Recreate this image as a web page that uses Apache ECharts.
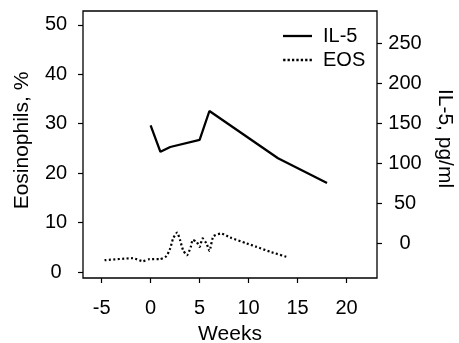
<!DOCTYPE html>
<html>
<head>
<meta charset="utf-8">
<script src="https://cdn.jsdelivr.net/npm/echarts@6/dist/echarts.min.js"></script>
<style>
  html, body {margin: 0; padding: 0; background: #fff;}
  #chart {width: 459px; height: 343px;}
</style>
</head>
<body>
<div id="chart"></div>
<script>
// IL-5 (pg/ml, right axis), solid line
const il5Weeks = [0, 1, 2, 5, 6, 13, 18];
const il5Values = [147, 114, 120, 129, 165, 106, 75];

// Eosinophils (%, left axis), dotted line
const eosWeeks = [-4.7, -1.8, -0.8, -0.1, 0.9, 1.6, 2.0, 2.3, 2.7, 3.0, 3.3, 3.7, 4.1, 4.3, 4.7, 5.0, 5.3, 5.7, 6.0, 6.4, 7.2, 8.1, 9.8, 10.8, 12.2, 14.0];
const eosValues = [2.4, 2.8, 2.2, 2.6, 2.6, 3.2, 4.8, 6.8, 8.0, 6.5, 4.5, 3.4, 5.1, 6.5, 6.1, 5.1, 6.8, 5.8, 4.3, 7.2, 7.8, 7.0, 5.8, 5.1, 4.1, 3.0];

const weekTicks = [-5, 0, 5, 10, 15, 20];
const eosTicks = [0, 10, 20, 30, 40, 50];
const il5Ticks = [0, 50, 100, 150, 200, 250];

const FONT = 'Liberation Sans';
const TICK_SIZE = 20;
const TITLE_SIZE = 21;
const chart = echarts.init(document.getElementById('chart'), null, {renderer: 'canvas'});

const tickStyle = {show: true, inside: false, length: 5, lineStyle: {color: '#000', width: 1.2}};
const noLine = {show: false, onZero: false};

// legend samples: a solid bar and a row of dots
const solidIcon = 'path://M0,0h29v2.3h-29z';
const dotIcon = 'path://M0,0h2.3v2.3h-2.3z M4.4,0h2.3v2.3h-2.3z M8.8,0h2.3v2.3h-2.3z M13.2,0h2.3v2.3h-2.3z M17.6,0h2.3v2.3h-2.3z M22,0h2.3v2.3h-2.3z M26.4,0h2.3v2.3h-2.3z';

chart.setOption({
  animation: false,
  textStyle: {fontFamily: FONT, color: '#000'},
  grid: {
    left: 83, right: 82, top: 11, bottom: 65,
    outerBoundsMode: 'none',
    show: true, borderColor: '#000', borderWidth: 1.3, backgroundColor: 'transparent',
  },
  legend: {
    orient: 'vertical',
    left: 283,
    top: 26,
    padding: 0,
    itemWidth: 29,
    itemHeight: 2.3,
    itemGap: 4,
    textStyle: {fontFamily: FONT, fontSize: TICK_SIZE, color: '#000', padding: [0, 0, 0, 6]},
    data: [
      {name: 'IL-5', icon: solidIcon},
      {name: 'EOS', icon: dotIcon},
    ],
  },
  xAxis: {
    type: 'value',
    min: -6.9,
    max: 23.1,
    name: 'Weeks',
    nameLocation: 'middle',
    nameGap: 46,
    nameTextStyle: {fontFamily: FONT, fontSize: TITLE_SIZE, color: '#000'},
    axisLine: noLine,
    axisTick: Object.assign({customValues: weekTicks}, tickStyle),
    axisLabel: {customValues: weekTicks, fontFamily: FONT, fontSize: TICK_SIZE, color: '#000', margin: 20},
    splitLine: {show: false},
  },
  yAxis: [
    {
      type: 'value',
      position: 'left',
      min: -1.2,
      max: 52.8,
      name: 'Eosinophils, %',
      nameLocation: 'middle',
      nameGap: 50,
      nameTextStyle: {fontFamily: FONT, fontSize: TITLE_SIZE, color: '#000', padding: [0, 0, 0, 8]},
      axisLine: noLine,
      axisTick: Object.assign({customValues: eosTicks}, tickStyle),
      axisLabel: {customValues: eosTicks, fontFamily: FONT, fontSize: TICK_SIZE, color: '#000', align: 'center', margin: 27},
      splitLine: {show: false},
    },
    {
      type: 'value',
      position: 'right',
      min: -43.75,
      max: 290,
      name: 'IL-5, pg/ml',
      nameLocation: 'middle',
      nameRotate: -90,
      nameGap: 57,
      nameTextStyle: {fontFamily: FONT, fontSize: TITLE_SIZE, color: '#000', padding: [0, 12, 0, 0]},
      axisLine: noLine,
      axisTick: Object.assign({customValues: il5Ticks}, tickStyle),
      axisLabel: {customValues: il5Ticks, fontFamily: FONT, fontSize: TICK_SIZE, color: '#000', align: 'center', margin: 28},
      splitLine: {show: false},
    },
  ],
  series: [
    {
      name: 'IL-5',
      type: 'line',
      yAxisIndex: 1,
      symbol: 'none',
      data: il5Weeks.map((w, i) => [w, il5Values[i]]),
      lineStyle: {color: '#000', width: 2.3},
      itemStyle: {color: '#000'},
    },
    {
      name: 'EOS',
      type: 'line',
      yAxisIndex: 0,
      symbol: 'none',
      smooth: 0.2,
      data: eosWeeks.map((w, i) => [w, eosValues[i]]),
      lineStyle: {color: '#000', width: 2.2, type: [2, 2.4]},
      itemStyle: {color: '#000'},
    },
  ],
});
</script>
</body>
</html>
